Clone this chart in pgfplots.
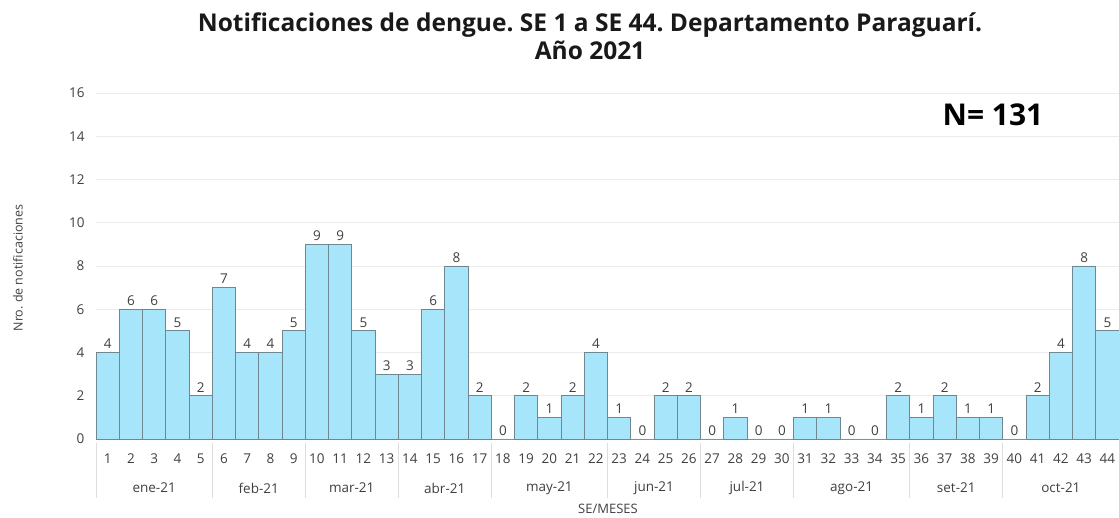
\documentclass[border=0pt]{standalone}
\usepackage{pgfplots}
\pgfplotsset{compat=1.18}
\usepackage{fontspec}
\setmainfont{Open Sans}
\frenchspacing
\pgfplotsset{/pgf/number format/assume math mode=true}
\definecolor{barfill}{RGB}{166,229,250}
\definecolor{baredge}{RGB}{110,135,145}
\definecolor{txt}{RGB}{64,64,64}
\definecolor{sep}{RGB}{222,222,222}
\begin{document}
\begin{tikzpicture}[x=1pt,y=1pt]
\path[use as bounding box] (0,0) rectangle (1119,518);
\begin{axis}[
  at={(96pt,79pt)}, anchor=south west, scale only axis,
  width=1023pt, height=346pt,
  xmin=-0.5, xmax=43.5, ymin=0, ymax=16,
  ybar=0pt, bar width=1,
  axis x line*=bottom, axis y line*=left,
  y axis line style={draw=none},
  x axis line style={draw=black!35},
  ytick={0,2,...,16},
  xtick={0,...,43},
  xticklabel={\pgfmathparse{int(\tick+1)}\pgfmathresult},
  major tick length=0pt,
  ymajorgrids, grid style={draw=black!8, line width=0.8pt},
  ticklabel style={font=\fontsize{13.5}{16}\selectfont, text=txt},
  yticklabel style={xshift=-8pt},
  xticklabel style={yshift=-11pt},
  nodes near coords,
  every node near coord/.append style={font=\fontsize{13.5}{16}\selectfont, text=txt},
  clip=false,
]
\addplot[fill=barfill, draw=baredge, line width=0.8pt] coordinates {
(0,4) (1,6) (2,6) (3,5) (4,2) (5,7) (6,4) (7,4) (8,5) (9,9) (10,9)
(11,5) (12,3) (13,3) (14,6) (15,8) (16,2) (17,0) (18,2) (19,1) (20,2)
(21,4) (22,1) (23,0) (24,2) (25,2) (26,0) (27,1) (28,0) (29,0) (30,1)
(31,1) (32,0) (33,0) (34,2) (35,1) (36,2) (37,1) (38,1) (39,0) (40,2)
(41,4) (42,8) (43,5)};
\foreach \b in {-0.5,4.5,8.5,12.5,16.5,21.5,25.5,29.5,34.5,38.5,43.5}{
  \edef\tmp{\noexpand\draw[sep, line width=0.8pt] ([yshift=-4pt]axis cs:\b,0) -- ([yshift=-59pt]axis cs:\b,0);}\tmp
}
\foreach \c/\m in {2/ene-21,6.5/feb-21,10.5/mar-21,14.5/abr-21,19/may-21,23.5/jun-21,27.5/jul-21,32/ago-21,36.5/set-21,41/oct-21}{
  \edef\tmp{\noexpand\node[font=\noexpand\fontsize{13.5}{16}\noexpand\selectfont, text=txt] at ([yshift=-49pt]axis cs:\c,0) {\m};}\tmp
}
\end{axis}
\node[font=\bfseries\fontsize{24.5}{28}\selectfont, align=center, text=black!90] at (590,482) {Notificaciones de dengue. SE 1 a SE 44. Departamento Paraguarí.\\Año 2021};
\node[font=\bfseries\fontsize{30}{34}\selectfont] at (993,403) {N= 131};
\node[rotate=90, font=\fontsize{12.5}{14}\selectfont, text=txt] at (18,250) {Nro. de notificaciones};
\node[font=\fontsize{13}{15}\selectfont, text=txt] at (608,9) {SE/MESES};
\end{tikzpicture}
\end{document}
